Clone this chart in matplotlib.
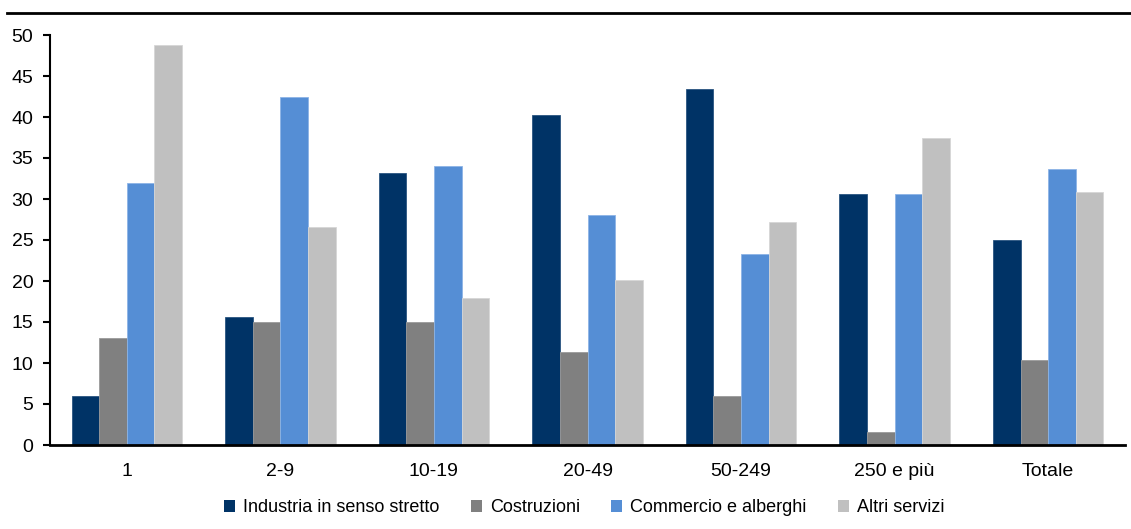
import matplotlib.pyplot as plt
import numpy as np
from matplotlib.lines import Line2D

plt.rcParams['font.family'] = ['Liberation Sans', 'DejaVu Sans']

classi = ['1', '2-9', '10-19', '20-49', '50-249', '250 e più', 'Totale']
industria = [6.0, 15.6, 33.2, 40.3, 43.4, 30.6, 25.0]
costruzioni = [13.0, 15.0, 15.0, 11.3, 6.0, 1.6, 10.4]
commercio = [32.0, 42.4, 34.0, 28.1, 23.3, 30.6, 33.7]
altri = [48.8, 26.6, 17.9, 20.1, 27.2, 37.4, 30.8]

# nome, valori, riempimento, bordo
serie = [
    ('Industria in senso stretto', industria, '#003366', '#2a5580'),
    ('Costruzioni', costruzioni, '#808080', '#9a9a9a'),
    ('Commercio e alberghi', commercio, '#558ED5', '#8db4e6'),
    ('Altri servizi', altri, '#C0C0C0', '#d6d6d6'),
]

fig = plt.figure(figsize=(11.31, 5.29), dpi=100)
ax = fig.add_axes([50 / 1131, 84 / 529, 1075 / 1131, 410 / 529])

x = np.arange(len(classi))
w = 0.18
for i, (nome, vals, col, bordo) in enumerate(serie):
    ax.bar(x + (i - 1.5) * w, vals, w, color=col, edgecolor=bordo, linewidth=0.6,
           label=nome)

ax.set_xlim(-0.5, len(classi) - 0.5)
ax.set_ylim(0, 50)
ax.set_yticks(np.arange(0, 51, 5))
ax.set_xticks(x)
ax.set_xticklabels(classi)
ax.tick_params(axis='y', direction='out', length=5, width=1.5, pad=7, labelsize=14)
ax.tick_params(axis='x', length=0, pad=13, labelsize=14)

for s in ['top', 'right']:
    ax.spines[s].set_visible(False)
ax.spines['left'].set_linewidth(1.5)
ax.spines['bottom'].set_linewidth(2)

leg = ax.legend(loc='upper center', bbox_to_anchor=(0.497, -0.115), ncol=4, frameon=False,
                fontsize=13, handlelength=0.6, handleheight=0.6, handletextpad=0.45,
                columnspacing=1.75, borderaxespad=0)
for h in leg.legend_handles:
    h.set_linewidth(0)

# filetto orizzontale in testa alla figura
fig.add_artist(Line2D([7 / 1131, 1.0], [1 - 12.5 / 529] * 2, color='black', lw=2,
                      transform=fig.transFigure))

fig.savefig('out.png', dpi=100)
